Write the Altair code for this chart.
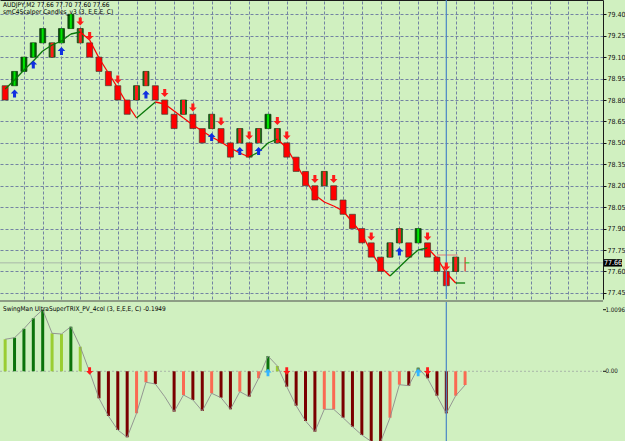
import altair as alt
import pandas as pd

FONT = "Liberation Sans Narrow, DejaVu Sans Condensed, Arial Narrow, Liberation Sans, sans-serif"
BG = "#d0f0c0"
GRID = "#7383a3"

# ---------------- data ----------------
bar_index = list(range(1, 51))
brick_low = [78.80, 78.90, 79.00, 79.10, 79.20, 79.10, 79.20, 79.30, 79.20, 79.10,
             79.00, 78.90, 78.80, 78.70, 78.80, 78.90, 78.80, 78.70, 78.60, 78.70,
             78.60, 78.50, 78.60, 78.50, 78.40, 78.50, 78.40, 78.50, 78.60, 78.50,
             78.40, 78.30, 78.20, 78.10, 78.20, 78.10, 78.00, 77.90, 77.80, 77.70,
             77.60, 77.70, 77.80, 77.70, 77.80, 77.70, 77.60, 77.50, 77.60, 77.60]
brick_high = [78.90, 79.00, 79.10, 79.20, 79.30, 79.20, 79.30, 79.40, 79.30, 79.20,
              79.10, 79.00, 78.90, 78.80, 78.90, 79.00, 78.90, 78.80, 78.70, 78.80,
              78.70, 78.60, 78.70, 78.60, 78.50, 78.60, 78.50, 78.60, 78.70, 78.60,
              78.50, 78.40, 78.30, 78.20, 78.30, 78.20, 78.10, 78.00, 77.90, 77.80,
              77.70, 77.80, 77.90, 77.80, 77.90, 77.80, 77.70, 77.60, 77.70, 77.70]
brick_kind = ["red", "bull", "bull", "bull", "bull", "mixed", "bull", "bull", "mixed", "red",
              "red", "red", "red", "red", "mixed", "mixed", "red", "red", "red", "mixed",
              "red", "red", "mixed", "red", "red", "mixed", "red", "mixed", "bull", "mixed",
              "red", "red", "red", "red", "mixed", "red", "red", "red", "red", "red",
              "red", "mixed", "mixed", "red", "bull", "red", "red", "red", "mixed", "live"]

signal_line = [78.877, 78.940, 79.010, 79.073, 79.143, 79.185, 79.213, 79.262, 79.276, 79.220,
               79.094, 78.989, 78.884, 78.772, 78.674, 78.730, 78.786, 78.772, 78.723, 78.674,
               78.625, 78.583, 78.541, 78.506, 78.464, 78.429, 78.401, 78.436, 78.499, 78.527,
               78.464, 78.352, 78.240, 78.135, 78.086, 78.058, 78.023, 77.946, 77.862, 77.736,
               77.631, 77.568, 77.631, 77.694, 77.750, 77.764, 77.694, 77.589, 77.519, 77.519]

up_arrow_index = [2, 4, 7, 16, 23, 26, 28, 43]
up_arrow_price = [78.846, 79.049, 79.143, 78.838, 78.541, 78.443, 78.443, 77.740]
down_arrow_index = [9, 10, 13, 18, 21, 24, 27, 30, 31, 34, 36, 40, 46, 48]
down_arrow_price = [79.350, 79.248, 78.944, 78.849, 78.748, 78.650, 78.552, 78.653, 78.552,
                    78.247, 78.247, 77.845, 77.845, 77.635]

price_ticks = [77.45, 77.60, 77.75, 77.90, 78.05, 78.20, 78.35, 78.50, 78.65, 78.80,
               78.95, 79.10, 79.25, 79.40]
price_range = [77.407, 79.50]
current_price = 77.66
current_label = "77.66"
marker_bar = 48
level_line_from, level_line_to, level_line_price = 47, 49.2, 77.715

trix_value = [0.525, 0.551, 0.698, 0.869, 1.0096, 0.623, 0.611, 0.731, 0.403, -0.010,
              -0.443, -0.733, -0.962, -1.082, -0.689, -0.180, -0.208, -0.416, -0.662, -0.389,
              -0.470, -0.651, -0.361, -0.433, -0.623, -0.334, -0.416, -0.115, 0.251, 0.087,
              -0.252, -0.564, -0.815, -0.990, -0.623, -0.623, -0.761, -0.908, -1.044, -1.150,
              -1.160, -0.761, -0.220, -0.236, 0.059, -0.115, -0.400, -0.689, -0.400, -0.225]
trix_color = ["up_weak", "up_strong", "up_strong", "up_strong", "up_strong", "up_weak", "up_weak", "up_strong", "up_weak", "down_strong",
              "down_strong", "down_strong", "down_strong", "down_strong", "down_weak", "down_weak", "down_strong", "none", "down_strong", "down_weak",
              "down_strong", "down_strong", "down_weak", "down_strong", "down_strong", "down_weak", "down_strong", "down_weak", "up_strong", "up_weak",
              "down_strong", "down_strong", "down_strong", "down_strong", "down_weak", "down_weak", "down_strong", "down_strong", "down_strong", "down_strong",
              "down_strong", "down_weak", "down_weak", "down_strong", "up_strong", "down_strong", "down_strong", "down_strong", "down_weak", "down_weak"]
trix_range = [-1.143, 1.136]
trix_up_arrow_index = [29, 45]
trix_up_arrow_value = [-0.02, -0.02]
trix_down_arrow_index = [10, 31, 46]
trix_down_arrow_value = [0.005, 0.005, 0.005]
trix_ticks = [1.0096, 0.0]
trix_tick_labels = ["1.0096", "0.00"]

title_main_1 = "AUDJPY,M2  77.66 77.70 77.60 77.66"
title_main_2 = "smC4Scalper Candles_v3 (3, E,E,E, C)"
title_ind = "SwingMan UltraSuperTRIX_PV_4col (3, E,E,E, C) -0.1949"

# ---------------- tables ----------------
bricks = pd.DataFrame({"i": bar_index, "p": brick_low, "p2": brick_high, "kind": brick_kind})
seg = pd.DataFrame({"i": bar_index[:-1], "p": signal_line[:-1],
                    "i2": bar_index[1:], "p2": signal_line[1:]})
seg["dir"] = ["rising" if b >= a else "falling" for a, b in zip(seg["p"], seg["p2"])]
up_df = pd.DataFrame({"i": up_arrow_index, "p": up_arrow_price})
dn_df = pd.DataFrame({"i": down_arrow_index, "p": down_arrow_price})
cur_df = pd.DataFrame({"cur": [current_price], "lab": [current_label]})
vline_main_df = pd.DataFrame({"i": [marker_bar], "p": [price_range[1]], "p2": [price_range[0]]})
vline_ind_df = pd.DataFrame({"i": [marker_bar], "v": [trix_range[1]], "v2": [trix_range[0]]})
lvl_df = pd.DataFrame({"i": [level_line_from], "i2": [level_line_to], "p": [level_line_price]})
trix = pd.DataFrame({"i": bar_index, "v": trix_value, "c": trix_color})
trix["z"] = 0.0
tup_df = pd.DataFrame({"i": trix_up_arrow_index, "v": trix_up_arrow_value})
tdn_df = pd.DataFrame({"i": trix_down_arrow_index, "v": trix_down_arrow_value})
ttick_df = pd.DataFrame({"v": trix_ticks, "lab": trix_tick_labels})

UP = "M0,-1 L0.95,0 L0.38,0 L0.38,1 L-0.38,1 L-0.38,0 L-0.95,0 Z"
DOWN = "M0,1 L0.95,0 L0.38,0 L0.38,-1 L-0.38,-1 L-0.38,0 L-0.95,0 Z"

W, H = 603, 441
MAIN_H = 299
IND_TOP = 302

xs = alt.Scale(domain=[0.984, 64.16], nice=False, zero=False)
x_axis = alt.Axis(orient="top", values=list(range(3, 64, 2)), grid=True, gridDash=[3, 2],
                  gridColor=GRID, gridWidth=1, labels=False, ticks=False, domain=True,
                  domainColor="#1a1a1a", title=None)
X = alt.X("i:Q", scale=xs, axis=x_axis)

ys = alt.Scale(domain=price_range, range=[MAIN_H, 0], nice=False, zero=False)
y_axis = alt.Axis(orient="right", values=price_ticks, format=".2f", grid=True, gridDash=[3, 2],
                  gridColor=GRID, tickSize=3, tickColor="#111", domain=True, domainColor="#1a1a1a",
                  labelFont=FONT, labelFontSize=7, labelColor="#111", labelPadding=1, title=None)
Y_AX = alt.Y("p:Q", scale=ys, axis=y_axis)
Y = alt.Y("p:Q", scale=ys, axis=None)

ts = alt.Scale(domain=trix_range, range=[H, IND_TOP], nice=False, zero=False)
TY = alt.Y("v:Q", scale=ts, axis=None)

# ---------------- main panel layers ----------------
cur_line = alt.Chart(cur_df).transform_calculate(p="datum.cur").mark_rule(
    color="#a8b8a8", strokeWidth=1).encode(x=alt.value(0), x2=alt.value(W), y=Y_AX)
lvl = alt.Chart(lvl_df).mark_rule(color="#e07a7a", strokeWidth=1).encode(
    x=X, x2=alt.X2("i2"), y=Y)

bb = alt.Chart(bricks)
red_b = bb.transform_filter("datum.kind == 'red'").mark_bar(
    size=6, fill="#ff0000", stroke="#3f3f30", strokeWidth=0.7).encode(
    x=X, y=Y, y2=alt.Y2("p2"))
bull_o = bb.transform_filter("datum.kind == 'bull'").mark_bar(
    size=6, fill="#006400", stroke="#0c2a0c", strokeWidth=0.7).encode(
    x=X, y=Y, y2=alt.Y2("p2"))
bull_i = bb.transform_filter("datum.kind == 'bull'").mark_bar(
    size=2, fill="#00e600").encode(x=X, y=Y, y2=alt.Y2("p2"))
mix_o = bb.transform_filter("datum.kind == 'mixed'").mark_bar(
    size=6, fill="#157a15", stroke="#0c2a0c", strokeWidth=0.7).encode(
    x=X, y=Y, y2=alt.Y2("p2"))
mix_i = bb.transform_filter("datum.kind == 'mixed'").mark_bar(
    size=3, fill="#ff1a1a").encode(x=X, y=Y, y2=alt.Y2("p2"))
live = bb.transform_filter("datum.kind == 'live'").mark_rule(
    color="#e01010", strokeWidth=1).encode(x=X, y=Y, y2=alt.Y2("p2"))
live_tick = alt.Chart(cur_df).transform_calculate(
    p="datum.cur", i="50", i2="50.45").mark_rule(color="#22cc22", strokeWidth=1).encode(
    x=X, x2=alt.X2("i2"), y=Y)

segs = alt.Chart(seg).mark_rule(strokeWidth=1.3).encode(
    x=X, y=Y, x2=alt.X2("i2"), y2=alt.Y2("p2"),
    color=alt.Color("dir:N", scale=alt.Scale(domain=["rising", "falling"],
                                             range=["#0a780a", "#ff0000"]),
                    legend=None))

vline = alt.Chart(vline_main_df).mark_rule(color="#4a86c5", strokeWidth=1.2).encode(
    x=X, y=Y, y2=alt.Y2("p2"))

up_ar = alt.Chart(up_df).mark_point(shape=UP, filled=True, size=64, color="#1030e0",
                                    opacity=1, strokeWidth=0).encode(x=X, y=Y)
dn_ar = alt.Chart(dn_df).mark_point(shape=DOWN, filled=True, size=64, color="#ff1a1a",
                                    opacity=1, strokeWidth=0).encode(x=X, y=Y)

cur_box = alt.Chart(cur_df).transform_calculate(
    p="datum.cur - 0.026", p2="datum.cur + 0.026").mark_rect(fill="#000000").encode(
    x=alt.value(604), x2=alt.value(622), y=Y, y2=alt.Y2("p2"))
cur_txt = alt.Chart(cur_df).transform_calculate(p="datum.cur").mark_text(
    color="#ffffff", fontSize=7, font=FONT, align="center", baseline="middle").encode(
    x=alt.value(613), y=Y, text="lab:N")

t1 = alt.Chart(pd.DataFrame({"t": [title_main_1]})).mark_text(
    align="left", baseline="middle", fontSize=6.5, font=FONT, color="#000").encode(
    x=alt.value(3), y=alt.value(5), text="t:N")
t2 = alt.Chart(pd.DataFrame({"t": [title_main_2]})).mark_text(
    align="left", baseline="middle", fontSize=6.5, font=FONT, color="#000").encode(
    x=alt.value(3), y=alt.value(11.5), text="t:N")

# ---------------- indicator panel layers ----------------
sep = alt.Chart(pd.DataFrame({"s": [0]})).mark_rule(color="#4a4a4a", strokeWidth=1).encode(
    y=alt.value(301), x=alt.value(0), x2=alt.value(W))
zero = alt.Chart(pd.DataFrame({"v": [0.0]})).mark_rule(
    color="#a9b6a9", strokeDash=[2, 2], strokeWidth=1).encode(y=TY, x=alt.value(0), x2=alt.value(W))
bars = alt.Chart(trix).transform_filter("datum.c != 'none'").mark_bar(size=3).encode(
    x=X, y=TY, y2=alt.Y2("z"),
    color=alt.Color("c:N", scale=alt.Scale(domain=["up_strong", "up_weak", "down_strong", "down_weak"],
                                           range=["#0b730b", "#9acd32", "#7a0000", "#fa6a52"]),
                    legend=None))
tline = alt.Chart(trix).mark_line(color="#8c8c8c", strokeWidth=0.9).encode(x=X, y=TY)
tvline = alt.Chart(vline_ind_df).mark_rule(color="#4a86c5", strokeWidth=1.2).encode(
    x=X, y=TY, y2=alt.Y2("v2"))
tup = alt.Chart(tup_df).mark_point(shape=UP, filled=True, size=56, color="#33b5ff",
                                   opacity=1, strokeWidth=0).encode(x=X, y=TY)
tdn = alt.Chart(tdn_df).mark_point(shape=DOWN, filled=True, size=56, color="#ff1a1a",
                                   opacity=1, strokeWidth=0).encode(x=X, y=TY)
ttitle = alt.Chart(pd.DataFrame({"t": [title_ind]})).mark_text(
    align="left", baseline="middle", fontSize=6.5, font=FONT, color="#000").encode(
    x=alt.value(3), y=alt.value(309), text="t:N")
ttick = alt.Chart(ttick_df).mark_rule(color="#111", strokeWidth=1).encode(
    x=alt.value(W), x2=alt.value(W + 3), y=TY)
tlab = alt.Chart(ttick_df).mark_text(align="left", baseline="middle", fontSize=6.2, font=FONT,
                                     color="#111").encode(x=alt.value(W + 2.5), y=TY, text="lab:N")

chart = alt.layer(
    cur_line, lvl, red_b, bull_o, bull_i, mix_o, mix_i, live, live_tick,
    segs, vline, up_ar, dn_ar, cur_box, cur_txt, t1, t2,
    sep, zero, bars, tline, tvline, tup, tdn, ttitle, ttick, tlab,
).resolve_scale(y="independent", color="independent").properties(
    width=W, height=H, background=BG,
    autosize=alt.AutoSizeParams(type="none"),
    padding={"left": 0, "top": 0, "right": 22, "bottom": 0},
).configure_view(stroke=None)

chart.save("out.html", embed_options={"renderer": "svg", "actions": False})
